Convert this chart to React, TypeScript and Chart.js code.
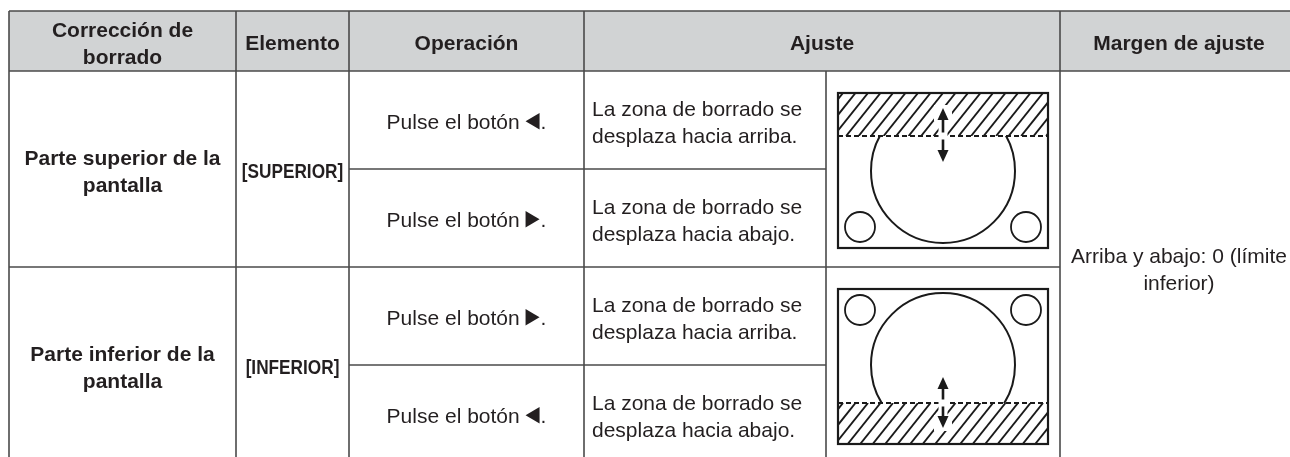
import React, { useEffect, useRef } from "react";
import { Chart, registerables } from "chart.js";
Chart.register(...registerables);

// ---- content ----
const headers = ["Corrección de\nborrado", "Elemento", "Operación", "Ajuste", "Margen de ajuste"];
const headerSpans = [[0, 1], [1, 2], [2, 3], [3, 5], [5, 6]];
const positions = ["Parte superior de la\npantalla", "Parte inferior de la\npantalla"];
const items = ["[SUPERIOR]", "[INFERIOR]"];
const operationText = "Pulse el botón";
const operationArrows = ["left", "right", "right", "left"];
const adjustments = [
  "La zona de borrado se\ndesplaza hacia arriba.",
  "La zona de borrado se\ndesplaza hacia abajo.",
  "La zona de borrado se\ndesplaza hacia arriba.",
  "La zona de borrado se\ndesplaza hacia abajo.",
];
const diagramHatch = ["top", "bottom"];
const rangeText = "Arriba y abajo: 0 (límite\ninferior)";

// ---- layout ----
const W = 1290;
const H = 457;
const COLS = [9, 236, 349, 584, 826, 1060, 1298];
const ROWS = [11, 71, 169, 267, 365, 463];
const FS = 21;
const LH = 27;
const FONT = '"Liberation Sans", Arial, Helvetica, sans-serif';
const TEXT = "#231f20";
const LINE = "#4a4a4a";
const HEAD_BG = "#d1d3d4";

function drawText(ctx: CanvasRenderingContext2D, text: string, x: number, cy: number, align: CanvasTextAlign, weight: string, narrow = false) {
  const lines = text.split("\n");
  ctx.font = `${weight} ${FS}px ${FONT}`;
  ctx.fillStyle = TEXT;
  ctx.textAlign = align;
  ctx.textBaseline = "alphabetic";
  lines.forEach((ln, i) => {
    const y = cy + 0.36 * FS + 1.5 - ((lines.length - 1) * LH) / 2 + i * LH;
    if (narrow) {
      ctx.save();
      ctx.translate(x, y);
      ctx.scale(0.82, 1);
      ctx.fillText(ln, 0, 0);
      ctx.restore();
    } else {
      ctx.fillText(ln, x, y);
    }
  });
}

function drawOperation(ctx: CanvasRenderingContext2D, dir: string, cx: number, cy: number) {
  ctx.font = `normal ${FS}px ${FONT}`;
  ctx.textBaseline = "alphabetic";
  ctx.textAlign = "left";
  ctx.fillStyle = TEXT;
  const pre = operationText + " ";
  const wPre = ctx.measureText(pre).width;
  const triW = 14;
  const wDot = ctx.measureText(".").width;
  const total = wPre + triW + 1 + wDot;
  const x0 = cx - total / 2;
  const base = cy + 0.36 * FS + 1.5;
  ctx.fillText(pre, x0, base);
  const tx = x0 + wPre;
  const top = base - 16;
  const bot = base + 0.5;
  ctx.beginPath();
  if (dir === "left") {
    ctx.moveTo(tx, (top + bot) / 2);
    ctx.lineTo(tx + triW, top);
    ctx.lineTo(tx + triW, bot);
  } else {
    ctx.moveTo(tx + triW, (top + bot) / 2);
    ctx.lineTo(tx, top);
    ctx.lineTo(tx, bot);
  }
  ctx.closePath();
  ctx.fill();
  ctx.fillText(".", tx + triW + 1, base);
}

function drawArrowHead(ctx: CanvasRenderingContext2D, x: number, tipY: number, dirUp: boolean) {
  const hw = 5.5;
  const hh = 12;
  ctx.beginPath();
  ctx.moveTo(x, tipY);
  ctx.lineTo(x - hw, tipY + (dirUp ? hh : -hh));
  ctx.lineTo(x + hw, tipY + (dirUp ? hh : -hh));
  ctx.closePath();
  ctx.fill();
}

function drawDiagram(ctx: CanvasRenderingContext2D, kind: string, cellL: number, cellR: number, cellT: number, cellB: number) {
  const bw = 210;
  const bh = 155;
  const L = (cellL + cellR) / 2 - bw / 2;
  const R = L + bw;
  const T = (cellT + cellB) / 2 - bh / 2 + 1.5;
  const B = T + bh;
  const cx = (L + R) / 2;
  const top = kind === "top";
  const dashY = top ? T + 43 : B - 41;
  const hT = top ? T : dashY;
  const hB = top ? dashY : B;

  ctx.save();
  ctx.fillStyle = "#ffffff";
  ctx.fillRect(L, T, bw, bh);

  // hatch
  ctx.save();
  ctx.beginPath();
  ctx.rect(L, hT, bw, hB - hT);
  ctx.clip();
  ctx.strokeStyle = "#1a1a1a";
  ctx.lineWidth = 1.9;
  const hh = hB - hT;
  const dx = hh * 0.8;
  for (let x0 = L - dx - 20; x0 < R + 20; x0 += 12.5) {
    ctx.beginPath();
    ctx.moveTo(x0, hB);
    ctx.lineTo(x0 + dx, hT);
    ctx.stroke();
  }
  ctx.restore();

  // big circle (clipped to non-hatched area)
  ctx.save();
  ctx.beginPath();
  if (top) ctx.rect(L, dashY, bw, B - dashY);
  else ctx.rect(L, T, bw, dashY - T);
  ctx.clip();
  ctx.strokeStyle = "#1a1a1a";
  ctx.lineWidth = 2;
  const ccy = top ? T + 78 : B - 79;
  ctx.beginPath();
  ctx.arc(cx, ccy, 72, 0, Math.PI * 2);
  ctx.stroke();
  ctx.restore();

  // small circles
  ctx.strokeStyle = "#1a1a1a";
  ctx.lineWidth = 1.8;
  const scy = top ? B - 21 : T + 21;
  [L + 22, R - 22].forEach((sx) => {
    ctx.beginPath();
    ctx.arc(sx, scy, 15, 0, Math.PI * 2);
    ctx.stroke();
  });

  // dashed line
  ctx.setLineDash([5, 3]);
  ctx.lineWidth = 2;
  ctx.beginPath();
  ctx.moveTo(L, dashY);
  ctx.lineTo(R, dashY);
  ctx.stroke();
  ctx.setLineDash([]);

  // arrow
  const aTop = top ? T + 15 : B - 67;
  const aBot = top ? T + 69 : B - 16;
  ctx.strokeStyle = "#ffffff";
  ctx.lineWidth = 9;
  ctx.beginPath();
  ctx.moveTo(cx, aTop - 2);
  ctx.lineTo(cx, aBot + 2);
  ctx.stroke();
  ctx.fillStyle = "#ffffff";
  ctx.fillRect(cx - 9, aTop - 3, 18, 16);
  ctx.fillRect(cx - 9, aBot - 13, 18, 16);
  ctx.fillStyle = "#1a1a1a";
  ctx.strokeStyle = "#1a1a1a";
  ctx.lineWidth = 2.6;
  ctx.beginPath();
  ctx.moveTo(cx, aTop + 9);
  ctx.lineTo(cx, dashY - 3.5);
  ctx.moveTo(cx, dashY + 3.5);
  ctx.lineTo(cx, aBot - 9);
  ctx.stroke();
  drawArrowHead(ctx, cx, aTop, true);
  drawArrowHead(ctx, cx, aBot, false);

  // frame
  ctx.strokeStyle = "#1a1a1a";
  ctx.lineWidth = 2.2;
  ctx.strokeRect(L, T, bw, bh);
  ctx.restore();
}

const tablePlugin = {
  id: "tablePlugin",
  afterDraw(chart: any) {
    const ctx: CanvasRenderingContext2D = chart.ctx;
    const xs = chart.scales.x;
    const ys = chart.scales.y;
    const px = (v: number) => xs.getPixelForValue(v);
    const py = (v: number) => ys.getPixelForValue(v);
    const C = COLS.map(px);
    const Rw = ROWS.map(py);

    ctx.save();
    ctx.fillStyle = HEAD_BG;
    ctx.fillRect(C[0], Rw[0], C[6] - C[0], Rw[1] - Rw[0]);

    headers.forEach((h, i) => {
      const [a, b] = headerSpans[i];
      drawText(ctx, h, (C[a] + C[b]) / 2, (Rw[0] + Rw[1]) / 2, "center", "bold");
    });

    positions.forEach((p, g) => {
      const gT = Rw[1 + 2 * g];
      const gB = Rw[3 + 2 * g];
      const gc = (gT + gB) / 2;
      drawText(ctx, p, (C[0] + C[1]) / 2, gc, "center", "bold");
      drawText(ctx, items[g], (C[1] + C[2]) / 2, gc, "center", "bold", true);
      for (let k = 0; k < 2; k++) {
        const r = 2 * g + k;
        const rT = Rw[1 + r];
        const rB = Rw[2 + r];
        const rc = (rT + rB) / 2;
        drawOperation(ctx, operationArrows[r], (C[2] + C[3]) / 2, rc);
        drawText(ctx, adjustments[r], C[3] + 8, rc, "left", "normal");
      }
      drawDiagram(ctx, diagramHatch[g], C[4], C[5], gT, gB);
    });
    drawText(ctx, rangeText, (C[5] + C[6]) / 2, (Rw[1] + Rw[5]) / 2, "center", "normal");

    ctx.strokeStyle = LINE;
    ctx.lineWidth = 1.6;
    const hline = (y: number, x1: number, x2: number) => {
      ctx.beginPath();
      ctx.moveTo(x1, y);
      ctx.lineTo(x2, y);
      ctx.stroke();
    };
    const vline = (x: number, y1: number, y2: number) => {
      ctx.beginPath();
      ctx.moveTo(x, y1);
      ctx.lineTo(x, y2);
      ctx.stroke();
    };
    hline(Rw[0], C[0], C[6]);
    hline(Rw[1], C[0], C[6]);
    hline(Rw[2], C[2], C[4]);
    hline(Rw[3], C[0], C[5]);
    hline(Rw[4], C[2], C[4]);
    hline(Rw[5], C[0], C[6]);
    [0, 1, 2, 3, 5, 6].forEach((i) => vline(C[i], Rw[0], Rw[5]));
    vline(C[4], Rw[1], Rw[5]);
    ctx.restore();
  },
};

export default function App() {
  const ref = useRef<HTMLCanvasElement | null>(null);
  useEffect(() => {
    if (!ref.current) return;
    const chart = new Chart(ref.current, {
      type: "scatter",
      data: { datasets: [] },
      options: {
        animation: false,
        responsive: false,
        devicePixelRatio: 1,
        layout: { padding: 0 },
        plugins: { legend: { display: false }, tooltip: { enabled: false }, title: { display: false } },
        scales: {
          x: { type: "linear", min: 0, max: W, display: false },
          y: { type: "linear", min: 0, max: H, reverse: true, display: false },
        },
      },
      plugins: [tablePlugin],
    } as any);
    return () => chart.destroy();
  }, []);
  return (
    <div style={{ position: "absolute", left: 0, top: 0, width: W, height: H, background: "#ffffff", overflow: "hidden" }}>
      <canvas ref={ref} width={W} height={H} style={{ display: "block", width: W, height: H }} />
    </div>
  );
}
